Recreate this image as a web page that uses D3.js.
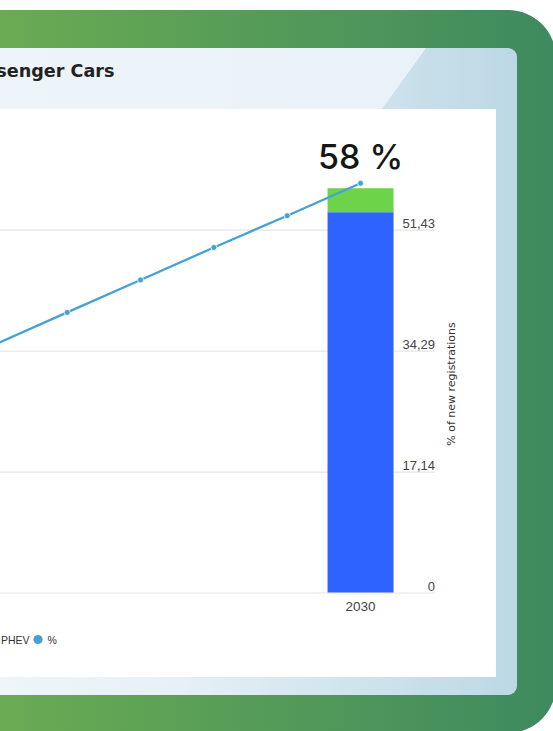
<!DOCTYPE html>
<html>
<head>
<meta charset="utf-8">
<script src="https://cdn.jsdelivr.net/npm/d3@7"></script>
<style>
  html, body { margin: 0; padding: 0; background: #ffffff; overflow: hidden; }
  svg { display: block; }
</style>
</head>
<body>
<svg id="chart" width="553" height="731"></svg>
<script>
// ---- data ----
const years = ["2025", "2026", "2027", "2028", "2029", "2030"];
const shareLine = [35.1, 39.7, 44.3, 48.9, 53.4, 58];   // % of new registrations (target path)
const barYears = ["2030"];
const bevValues = [53.9];
const phevValues = [3.4];
const yTicks = [0, 17.14, 34.29, 51.43];
const yMax = 68.57;
const xTickLabels = ["2030"];
const legendLabels = ["BEV", "PHEV", "%"];
const titleText = "Passenger Cars";
const axisTitle = "% of new registrations";

// ---- colours ----
const cBEV = "#2f63ff", cPHEV = "#6dd449", cLine = "#44a2d3";

const svg = d3.select("#chart");
const defs = svg.append("defs");

// frame gradients
const gGreen = defs.append("linearGradient").attr("id", "gGreen")
  .attr("gradientUnits", "userSpaceOnUse").attr("x1", 0).attr("x2", 553).attr("y1", 0).attr("y2", 0);
gGreen.append("stop").attr("offset", 0).attr("stop-color", "#6aab52");
gGreen.append("stop").attr("offset", 1).attr("stop-color", "#3e8a5f");

const gPanel = defs.append("linearGradient").attr("id", "gPanel")
  .attr("gradientUnits", "userSpaceOnUse").attr("x1", 0).attr("x2", 517).attr("y1", 0).attr("y2", 0);
gPanel.append("stop").attr("offset", 0).attr("stop-color", "#eff5fa");
gPanel.append("stop").attr("offset", 0.35).attr("stop-color", "#e6f0f6");
gPanel.append("stop").attr("offset", 1).attr("stop-color", "#bcd8e5");

// outer green frame
svg.append("rect").attr("x", -80).attr("y", 10).attr("width", 636).attr("height", 723)
  .attr("rx", 48).attr("fill", "url(#gGreen)");

// light panel
svg.append("rect").attr("x", -40).attr("y", 48).attr("width", 557).attr("height", 647)
  .attr("rx", 9).attr("fill", "url(#gPanel)");

// pale sheen on the upper-left part of the panel
svg.append("path")
  .attr("d", "M-40,48 L426,48 L382,109 L-40,109 Z")
  .attr("fill", "#ecf4f9").attr("opacity", 0.9);

// white plotting card
svg.append("rect").attr("x", -40).attr("y", 109).attr("width", 536).attr("height", 568)
  .attr("fill", "#ffffff");

// title (its start runs past the left edge of the card)
svg.append("text").attr("x", 114.5).attr("y", 77).attr("text-anchor", "end")
  .attr("font-family", "'DejaVu Sans', sans-serif").attr("font-weight", 700)
  .attr("font-size", 17.6).attr("fill", "#222").text(titleText);

// ---- scales ----
const x = d3.scaleBand().domain(years).range([-42.8, 397.2])
  .paddingInner(0.1).paddingOuter(0.05);
const y = d3.scaleLinear().domain([0, yMax]).range([592.5, 108.7]);

const plot = svg.append("g");

// gridlines with labels sitting on the right end of each line
const yAxis = d3.axisRight(y).tickValues(yTicks).tickSize(0)
  .tickFormat(d => d === 0 ? "0" : d3.format(".2f")(d).replace(".", ","));
const yg = plot.append("g").call(yAxis);
yg.select(".domain").remove();
yg.selectAll(".tick line").attr("x1", -60).attr("x2", 435)
  .attr("stroke", "#e6e6e6").attr("stroke-width", 1.2);
yg.selectAll(".tick text").attr("x", 435).attr("dy", -2).attr("text-anchor", "end")
  .attr("dominant-baseline", "auto")
  .attr("font-family", "'Liberation Sans', Arial, sans-serif").attr("font-size", 13)
  .attr("fill", "#444");

// stacked bars
const bars = barYears.map((yr, i) => ({ yr, bev: bevValues[i], phev: phevValues[i] }));
plot.selectAll("rect.bev").data(bars).join("rect").attr("class", "bev")
  .attr("x", d => x(d.yr)).attr("width", x.bandwidth())
  .attr("y", d => y(d.bev)).attr("height", d => y(0) - y(d.bev)).attr("fill", cBEV);
plot.selectAll("rect.phev").data(bars).join("rect").attr("class", "phev")
  .attr("x", d => x(d.yr)).attr("width", x.bandwidth())
  .attr("y", d => y(d.bev + d.phev)).attr("height", d => y(d.bev) - y(d.bev + d.phev))
  .attr("fill", cPHEV);

// x axis labels
const xAxis = d3.axisBottom(x).tickValues(xTickLabels).tickSize(0).tickPadding(0);
const xg = plot.append("g").attr("transform", `translate(0,${y(0)})`).call(xAxis);
xg.select(".domain").remove();
xg.selectAll(".tick text").attr("y", 18).attr("dy", 0)
  .attr("font-family", "'Liberation Sans', Arial, sans-serif").attr("font-size", 13.5)
  .attr("fill", "#444");

// share line
const pts = years.map((yr, i) => ({ yr, v: shareLine[i] }));
const cx = d => x(d.yr) + x.bandwidth() / 2;
plot.append("path").datum(pts)
  .attr("d", d3.line().x(cx).y(d => y(d.v)))
  .attr("fill", "none").attr("stroke", cLine).attr("stroke-width", 2.3);
plot.selectAll("circle.pt").data(pts).join("circle").attr("class", "pt")
  .attr("cx", cx).attr("cy", d => y(d.v)).attr("r", 3)
  .attr("fill", cLine).attr("stroke", "#ffffff").attr("stroke-width", 0.8);

// value label above the final point
const last = pts[pts.length - 1];
plot.append("text").attr("x", cx(last)).attr("y", 168.5).attr("text-anchor", "middle")
  .attr("font-family", "Inter, 'Noto Sans', sans-serif").attr("font-weight", 500)
  .attr("font-size", 34).attr("fill", "#161616")
  .text(`${last.v} %`);

// y axis title
svg.append("text").attr("transform", "translate(455,384) rotate(-90)")
  .attr("text-anchor", "middle")
  .attr("font-family", "'DejaVu Sans', sans-serif").attr("font-size", 11)
  .attr("fill", "#333").text(axisTitle);

// legend: the first entries sit beyond the left edge of the card
const legend = svg.append("g").attr("font-family", "'Liberation Sans', Arial, sans-serif")
  .attr("font-size", 10.5).attr("fill", "#333");
const legendMarkX = [-110, -60, 38];
const legendTextX = [-100, 1, 47.5];
const legendCol = [cBEV, cPHEV, cLine];
legendLabels.forEach((lab, i) => {
  legend.append("circle").attr("cx", legendMarkX[i]).attr("cy", 639.5).attr("r", 4.6)
    .attr("fill", legendCol[i]);
  legend.append("text").attr("x", legendTextX[i]).attr("y", 643.5).text(lab);
});
</script>
</body>
</html>
